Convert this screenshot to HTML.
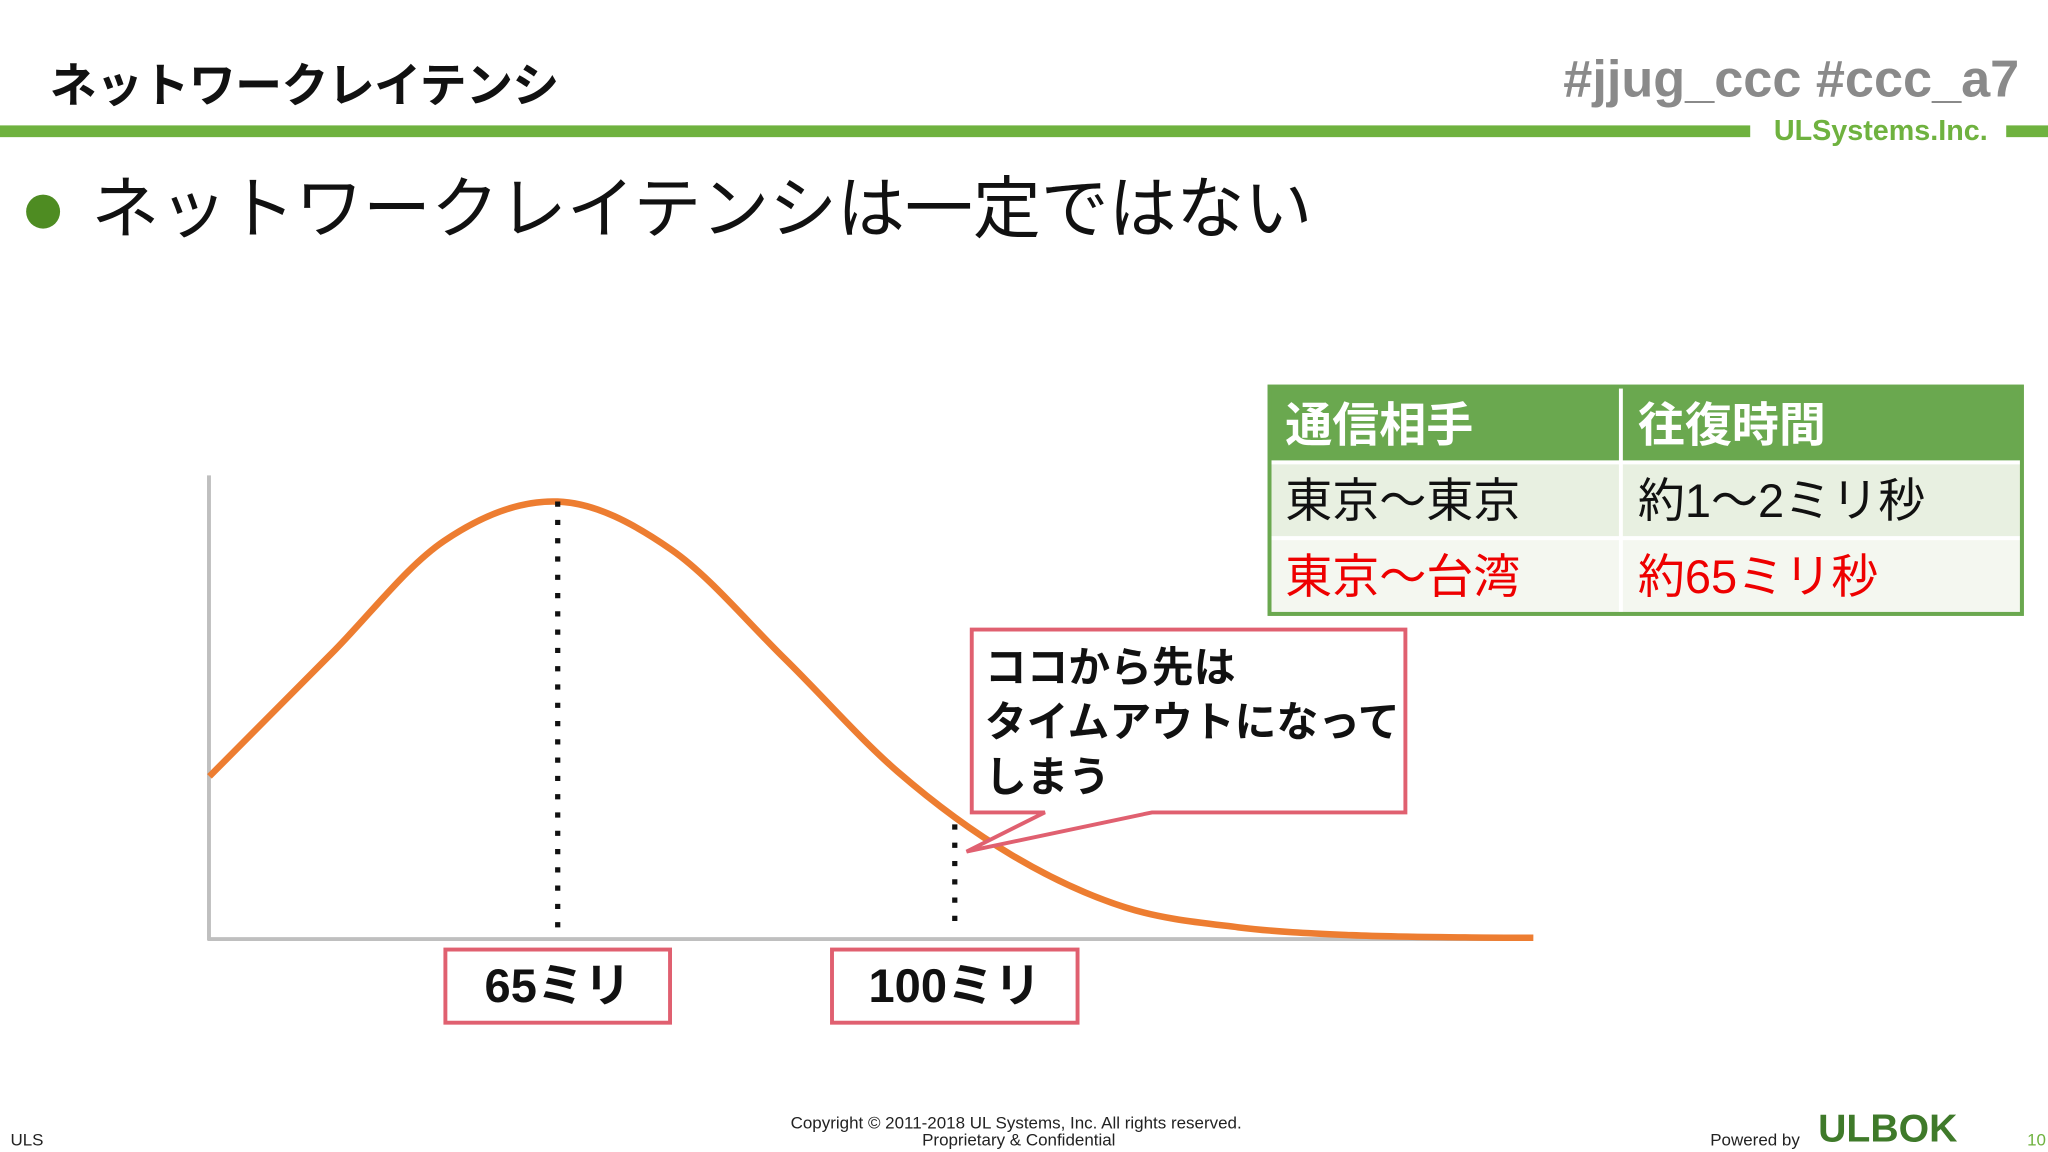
<!DOCTYPE html>
<html><head><meta charset="utf-8"><style>
html,body{margin:0;padding:0;background:#fff;}
svg{display:block;font-family:"Liberation Sans","Noto Sans CJK JP",sans-serif;}
</style></head><body>
<svg width="2048" height="1152" viewBox="0 0 1568 882" xmlns="http://www.w3.org/2000/svg">
<text x="38" y="78" font-size="36" font-weight="bold" fill="#111" letter-spacing="-0.5">ネットワークレイテンシ</text>
<text x="1546" y="74" font-size="40" font-weight="bold" fill="#8a8a8a" text-anchor="end">#jjug_ccc #ccc_a7</text>
<rect x="0" y="96" width="1340" height="9" fill="#6fb23f"/>
<rect x="1536" y="96" width="32" height="9" fill="#6fb23f"/>
<text x="1440" y="107" font-size="22" font-weight="bold" fill="#6fb23f" text-anchor="middle">ULSystems.Inc.</text>
<circle cx="33" cy="162" r="13" fill="#4e8c22"/>
<text x="70" y="178" font-size="52" fill="#111">ネットワークレイテンシは一定ではない</text>

<g>
<line x1="160" y1="364" x2="160" y2="720" stroke="#bfbfbf" stroke-width="3"/>
<line x1="159" y1="719" x2="1172" y2="719" stroke="#bfbfbf" stroke-width="3"/>
<path id="curve" fill="none" stroke="#ed7d31" stroke-width="5"/>
<g id="markers"></g>
</g>

<g>
<path d="M744,482 H1076 V622 H882 L740,652 L800,622 H744 Z" fill="#fff" stroke="#e06070" stroke-width="3"/>
<text font-size="32" font-weight="bold" fill="#111"><tspan x="754" y="522">ココから先は</tspan><tspan x="754" y="564">タイムアウトになって</tspan><tspan x="754" y="606">しまう</tspan></text>
</g>

<g>
<rect x="972" y="296" width="576" height="174" fill="#fff" stroke="#6aa84f" stroke-width="3"/>
<rect x="972" y="296" width="576" height="58" fill="#6aa84f"/>
<rect x="972" y="354" width="576" height="58" fill="#e8f0e1"/>
<rect x="972" y="412" width="576" height="58" fill="#f4f7f0"/>
<line x1="1241" y1="296" x2="1241" y2="470" stroke="#fff" stroke-width="3"/>
<line x1="972" y1="354" x2="1548" y2="354" stroke="#fff" stroke-width="3"/>
<line x1="972" y1="412" x2="1548" y2="412" stroke="#fff" stroke-width="3"/>
<rect x="972" y="296" width="576" height="174" fill="none" stroke="#6aa84f" stroke-width="3"/>
<text x="984" y="338" font-size="36" font-weight="bold" fill="#fff">通信相手</text>
<text x="1254" y="338" font-size="36" font-weight="bold" fill="#fff">往復時間</text>
<text x="984" y="396" font-size="36" fill="#111">東京～東京</text>
<text x="1254" y="396" font-size="36" fill="#111">約1～2ミリ秒</text>
<text x="984" y="454" font-size="36" fill="#e00">東京～台湾</text>
<text x="1254" y="454" font-size="36" fill="#e00">約65ミリ秒</text>
</g>

<text x="8" y="877" font-size="13" fill="#222">ULS</text>
<text x="778" y="864" font-size="13" fill="#222" text-anchor="middle">Copyright © 2011-2018 UL Systems, Inc.  All rights reserved.</text>
<text x="780" y="877" font-size="13" fill="#222" text-anchor="middle">Proprietary &amp; Confidential</text>
<text x="1378" y="877" font-size="13" fill="#222" text-anchor="end">Powered by</text>
<text x="1392" y="874" font-size="30" font-weight="bold" fill="#3f7a2a">ULBOK</text>
<text x="1552" y="877" font-size="13" fill="#6fb23f">10</text>
</svg>
<script>
const latencyMs = [34.3,45,55,65,75,85,95,105,115,125,135,145,151];
const density = [37,65,91,100,89,64,38,19,7,2.4,0.6,0.1,0];
const markerMs = [65,100];
const markerLabels = ["65ミリ","100ミリ"];
const markerTop = [100,26];
function xs(ms){return 427+(ms-65)*(304/35);}
function ys(v){return 718-v*3.34;}
const pts = latencyMs.map((m,i)=>[xs(m),ys(density[i])]);
let d = "M"+pts[0][0]+","+pts[0][1];
for(let i=0;i<pts.length-1;i++){
  const p0=pts[Math.max(0,i-1)],p1=pts[i],p2=pts[i+1],p3=pts[Math.min(pts.length-1,i+2)];
  const c1=[p1[0]+(p2[0]-p0[0])/6,p1[1]+(p2[1]-p0[1])/6];
  const c2=[p2[0]-(p3[0]-p1[0])/6,p2[1]-(p3[1]-p1[1])/6];
  d+=" C"+c1+" "+c2+" "+p2;
}
document.getElementById('curve').setAttribute('d',d);
const NS="http://www.w3.org/2000/svg";
const g=document.getElementById('markers');
markerMs.forEach((m,i)=>{
  const x=xs(m);
  const l=document.createElementNS(NS,'line');
  
  
  l.setAttribute('x1',x);l.setAttribute('x2',x);
  l.setAttribute('y1',ys(markerTop[i]));l.setAttribute('y2',712);
  l.setAttribute('stroke','#111');l.setAttribute('stroke-width','4');l.setAttribute('stroke-dasharray','4 10');
  g.appendChild(l);
  const w=i==0?172:188;
  const r=document.createElementNS(NS,'rect');
  
  
  r.setAttribute('x',x-w/2);r.setAttribute('y',727);r.setAttribute('width',w);r.setAttribute('height',56);
  r.setAttribute('fill','#fff');r.setAttribute('stroke','#e06070');r.setAttribute('stroke-width','3');
  g.appendChild(r);
  const t=document.createElementNS(NS,'text');
  
  
  t.setAttribute('x',x);t.setAttribute('y',767);t.setAttribute('text-anchor','middle');
  t.setAttribute('font-size','36');t.setAttribute('font-weight','bold');t.setAttribute('fill','#111');
  t.textContent=markerLabels[i];
  g.appendChild(t);
});
</script>
</body></html>
